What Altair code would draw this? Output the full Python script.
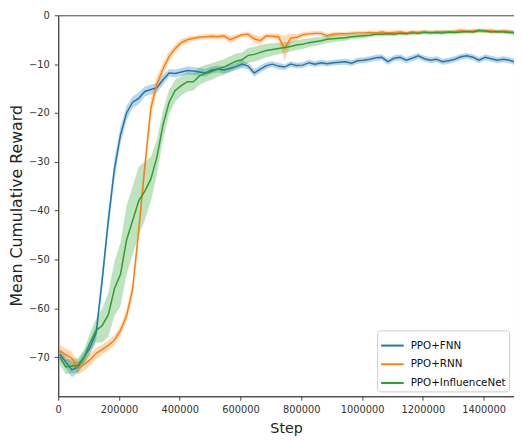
import altair as alt
import pandas as pd

steps = list(range(5000, 1510000, 20000))
series_names = ["PPO+FNN", "PPO+RNN", "PPO+InfluenceNet"]
series_colors = ["#1f77b4", "#ff7f0e", "#2ca02c"]
x_ticks = [0, 200000, 400000, 600000, 800000, 1000000, 1200000, 1400000]
y_ticks = [-70, -60, -50, -40, -30, -20, -10, 0]

fnn_mean = [-69.4, -71.0, -72.6, -72.0, -70.0, -68.0, -65.0, -54.0, -42.0, -31.5,
            -24.5, -20.0, -17.8, -17.0, -15.6, -15.2, -14.8, -13.2, -11.8, -11.9,
            -11.6, -11.3, -11.4, -11.6, -11.8, -11.2, -11.0, -11.2, -10.9, -10.5,
            -10.0, -10.4, -11.8, -11.0, -10.3, -10.0, -10.4, -10.6, -10.0, -10.3,
            -10.2, -9.7, -10.0, -9.7, -9.9, -9.7, -9.6, -9.5, -9.8, -9.3,
            -9.2, -9.0, -8.7, -8.6, -9.5, -8.8, -8.6, -9.2, -8.8, -8.3,
            -8.9, -9.2, -9.0, -9.5, -9.3, -9.0, -8.5, -8.3, -8.6, -9.2,
            -8.6, -8.9, -9.2, -9.0, -9.2, -9.6]
fnn_half = [1.0, 1.2, 1.5, 1.2, 1.2, 1.4, 1.5, 2.0, 2.0, 2.0,
            1.8, 1.5, 1.2, 1.2, 1.0, 1.0, 1.0, 1.0, 0.8, 0.8,
            0.8, 0.8, 0.8, 0.8, 0.8, 0.7, 0.7, 0.7, 0.7, 0.7,
            0.8, 0.7, 0.8, 0.7, 0.7, 0.6, 0.7, 0.6, 0.6, 0.6,
            0.6, 0.6, 0.6, 0.6, 0.6, 0.6, 0.6, 0.6, 0.6, 0.6,
            0.6, 0.6, 0.6, 0.6, 0.6, 0.6, 0.6, 0.6, 0.6, 0.6,
            0.6, 0.6, 0.6, 0.6, 0.6, 0.6, 0.6, 0.6, 0.6, 0.6,
            0.6, 0.6, 0.6, 0.6, 0.6, 0.6]

rnn_mean = [-68.6, -69.5, -70.2, -72.2, -71.5, -70.5, -69.2, -68.4, -67.6, -66.5,
            -64.5, -61.5, -56.0, -44.0, -31.0, -19.0, -14.0, -11.0, -8.4, -6.8,
            -5.6, -5.0, -4.7, -4.5, -4.4, -4.3, -4.4, -4.2, -5.0, -4.5,
            -4.0, -3.9, -4.8, -5.2, -4.2, -4.3, -4.4, -6.8, -4.7, -4.5,
            -4.0, -3.8, -3.7, -3.7, -4.2, -3.9, -3.8, -3.8, -3.7, -3.6,
            -3.6, -3.5, -3.6, -3.4, -3.6, -3.5, -3.4, -3.6, -3.4, -3.5,
            -3.3, -3.5, -3.4, -3.3, -3.4, -3.3, -3.1, -3.3, -3.2, -3.1,
            -3.2, -3.1, -3.4, -3.2, -3.3, -3.5]
rnn_half = [1.2, 1.3, 1.3, 1.3, 1.3, 1.2, 1.2, 1.0, 1.0, 1.0,
            1.0, 1.2, 1.5, 2.0, 2.0, 2.0, 1.5, 1.2, 1.0, 0.8,
            0.7, 0.6, 0.5, 0.5, 0.5, 0.5, 0.5, 0.5, 0.8, 0.5,
            0.5, 0.5, 0.8, 0.8, 0.5, 0.5, 0.6, 2.5, 1.0, 0.6,
            0.5, 0.5, 0.5, 0.5, 0.5, 0.5, 0.4, 0.4, 0.4, 0.4,
            0.4, 0.4, 0.4, 0.4, 0.4, 0.4, 0.4, 0.4, 0.4, 0.4,
            0.4, 0.4, 0.4, 0.4, 0.4, 0.4, 0.4, 0.4, 0.4, 0.4,
            0.4, 0.4, 0.4, 0.4, 0.4, 0.4]

inf_mean = [-70.0, -72.0, -71.8, -71.7, -70.0, -67.0, -64.5, -63.5, -61.3, -56.0,
            -53.0, -46.0, -42.0, -38.0, -36.0, -33.5, -29.0, -22.4, -17.8, -15.4,
            -14.4, -13.6, -13.6, -12.4, -11.9, -11.5, -11.0, -10.6, -10.0, -9.4,
            -9.1, -8.2, -8.0, -7.6, -7.2, -7.0, -6.8, -6.6, -6.4, -6.1,
            -5.9, -5.6, -5.4, -5.2, -4.9, -4.8, -4.7, -4.6, -4.4, -4.3,
            -4.2, -4.1, -3.9, -3.9, -3.8, -3.9, -3.7, -3.8, -3.6, -3.7,
            -3.5, -3.6, -3.5, -3.6, -3.4, -3.5, -3.4, -3.3, -3.4, -3.1,
            -3.2, -3.4, -3.3, -3.4, -3.5, -3.6]
inf_half = [1.5, 1.5, 1.5, 1.5, 1.5, 2.0, 2.5, 3.5, 4.5, 5.5,
            6.5, 7.0, 7.0, 7.0, 6.0, 4.5, 3.5, 3.0, 2.5, 2.2,
            2.0, 2.0, 1.8, 1.8, 1.7, 1.7, 1.6, 1.6, 1.6, 1.6,
            1.5, 1.5, 1.5, 1.5, 1.4, 1.3, 1.2, 1.1, 1.0, 1.0,
            1.0, 0.9, 0.9, 0.8, 0.8, 0.7, 0.6, 0.6, 0.5, 0.5,
            0.5, 0.4, 0.4, 0.4, 0.4, 0.4, 0.4, 0.4, 0.4, 0.4,
            0.4, 0.4, 0.4, 0.4, 0.4, 0.4, 0.4, 0.4, 0.4, 0.4,
            0.4, 0.4, 0.4, 0.4, 0.4, 0.4]

rows = []
for name, means, halves in zip(series_names,
                               [fnn_mean, rnn_mean, inf_mean],
                               [fnn_half, rnn_half, inf_half]):
    for s, m, h in zip(steps, means, halves):
        rows.append({"step": s, "series": name, "band_series": name,
                     "mean": m, "lo": m - h, "hi": m + h})
df = pd.DataFrame(rows)

# line colours: explicit domain (legend order); band fills: data-derived sorted domain
col_scale = alt.Scale(domain=series_names, range=series_colors)
band_order = sorted(series_names)
band_scale = alt.Scale(range=[series_colors[series_names.index(n)] for n in band_order])
x_scale = alt.Scale(domain=[0, 1500000], nice=False, zero=False)
y_scale = alt.Scale(domain=[-78, 0], nice=False, zero=False)

x_axis = alt.Axis(values=x_ticks, format="d", title="Step", labelFlush=False,
                  labelOverlap=False, labelPadding=4, titleFontSize=14.5,
                  titleY=37, titleBaseline="alphabetic")
y_axis = alt.Axis(values=y_ticks, format="d", title="Mean Cumulative Reward",
                  labelPadding=5, titleFontSize=16,
                  titleX=-42, titleY=193, titleAlign="center", titleBaseline="middle")

band = alt.Chart(df).mark_area(opacity=0.3, clip=True).encode(
    x=alt.X("step:Q", scale=x_scale, axis=x_axis),
    y=alt.Y("lo:Q", scale=y_scale, axis=y_axis),
    y2="hi:Q",
    fill=alt.Fill("band_series:N", scale=band_scale, legend=None),
    detail="band_series:N",
)

line = alt.Chart(df).mark_line(strokeWidth=1.5, clip=True).encode(
    x=alt.X("step:Q", scale=x_scale, axis=x_axis),
    y=alt.Y("mean:Q", scale=y_scale, axis=y_axis),
    color=alt.Color("series:N", scale=col_scale, sort=series_names,
                    legend=alt.Legend(title=None, orient="bottom-right", offset=5,
                                      symbolType="stroke", symbolSize=529,
                                      symbolStrokeWidth=2, labelFontSize=10.5,
                                      labelFont="DejaVu Sans", labelColor="#111",
                                      strokeColor="#cccccc", cornerRadius=3,
                                      fillColor="white", padding=3, rowPadding=1,
                                      labelOffset=6)),
)

chart = alt.layer(band, line).properties(
    width=463, height=387,
    padding={"left": 51, "top": 4, "right": 0, "bottom": 41},
    autosize=alt.AutoSizeParams(type="none"),
).configure_view(stroke="#444", strokeWidth=1).configure_axis(
    grid=False, domainColor="#444", tickColor="#444", tickSize=4,
    labelFont="DejaVu Sans", labelFontSize=10, labelColor="#333",
    titleFont="DejaVu Sans", titleFontWeight="normal", titleColor="#222",
)

chart.save("out.html", embed_options={"renderer": "svg", "actions": False})
